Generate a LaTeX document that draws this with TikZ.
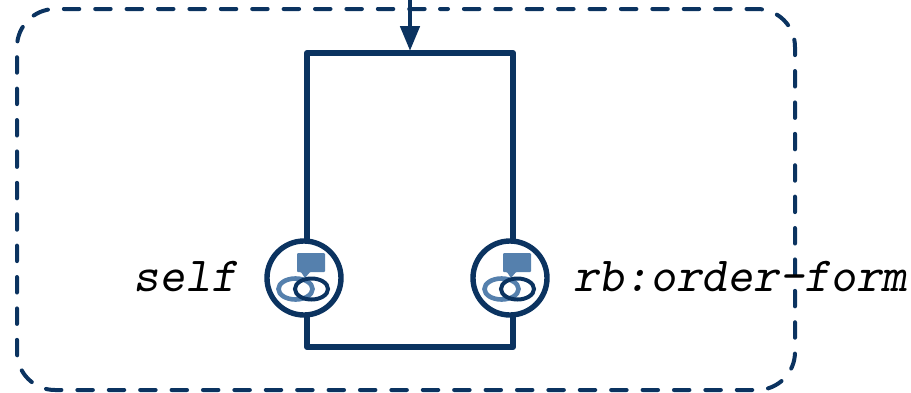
\documentclass[tikz,border=0pt]{standalone}
\usetikzlibrary{arrows.meta}
\definecolor{navy}{HTML}{0B3360}
\definecolor{steel}{HTML}{5580AD}
\tikzset{
  x=1pt,y=-1pt,
  wire/.style={draw=navy,line width=6pt,line join=round},
  port/.style={circle,draw=navy,fill=white,line width=5.4pt,minimum size=74pt,inner sep=0pt},
  lbl/.style={font=\ttfamily\slshape\fontsize{49}{49}\selectfont,text=black,inner sep=0pt},
  boundary/.style={draw=navy,line width=4pt,line cap=round,dash pattern=on 15.5pt off 15.9pt,dash phase=7.5pt,rounded corners=38pt},
  flow/.style={draw=navy,line width=4.8pt,-{Triangle[length=25pt,width=19pt]}}
}
\newcommand{\policyicon}[1]{%
  \begin{scope}[shift={(#1)}]
    \fill[steel,rounded corners=1pt] (-7,-25) -- (21,-25) -- (21,-6) -- (6,-6) -- (1,0) -- (-3,-6) -- (-7,-6) -- cycle;
    \draw[steel,line width=4.6pt] (-8.5,11) ellipse [x radius=17pt,y radius=10.5pt];
    \draw[navy,line width=4pt] (7.5,11) ellipse [x radius=16.5pt,y radius=10.5pt];
  \end{scope}}
\begin{document}
\begin{tikzpicture}
\useasboundingbox (0,0) rectangle (911,392);
\draw[boundary] (402,9) -- (795,9) -- (795,390) -- (17,390) -- (17,9) -- cycle;
\coordinate (inlet) at (410,-2);
\coordinate (boxtop) at (410,51);
\coordinate (selfwire) at (307,279);
\coordinate (rbwire) at (513,279);
\draw[wire] (selfwire) -- (307,53) -- (513,53) -- (rbwire);
\draw[wire] (selfwire) -- (307,347) -- (513,347) -- (rbwire);
\draw[flow] (inlet) -- (boxtop);
\node[port] (self) at (304,278) {};
\node[port] (rb) at (510,278) {};
\policyicon{304,278}
\policyicon{510,278}
\node[lbl,anchor=base east] (selflabel) at (237,291) {self};
\node[lbl,anchor=base west] (rblabel) at (573,291) {rb:order-form};
\end{tikzpicture}
\end{document}
